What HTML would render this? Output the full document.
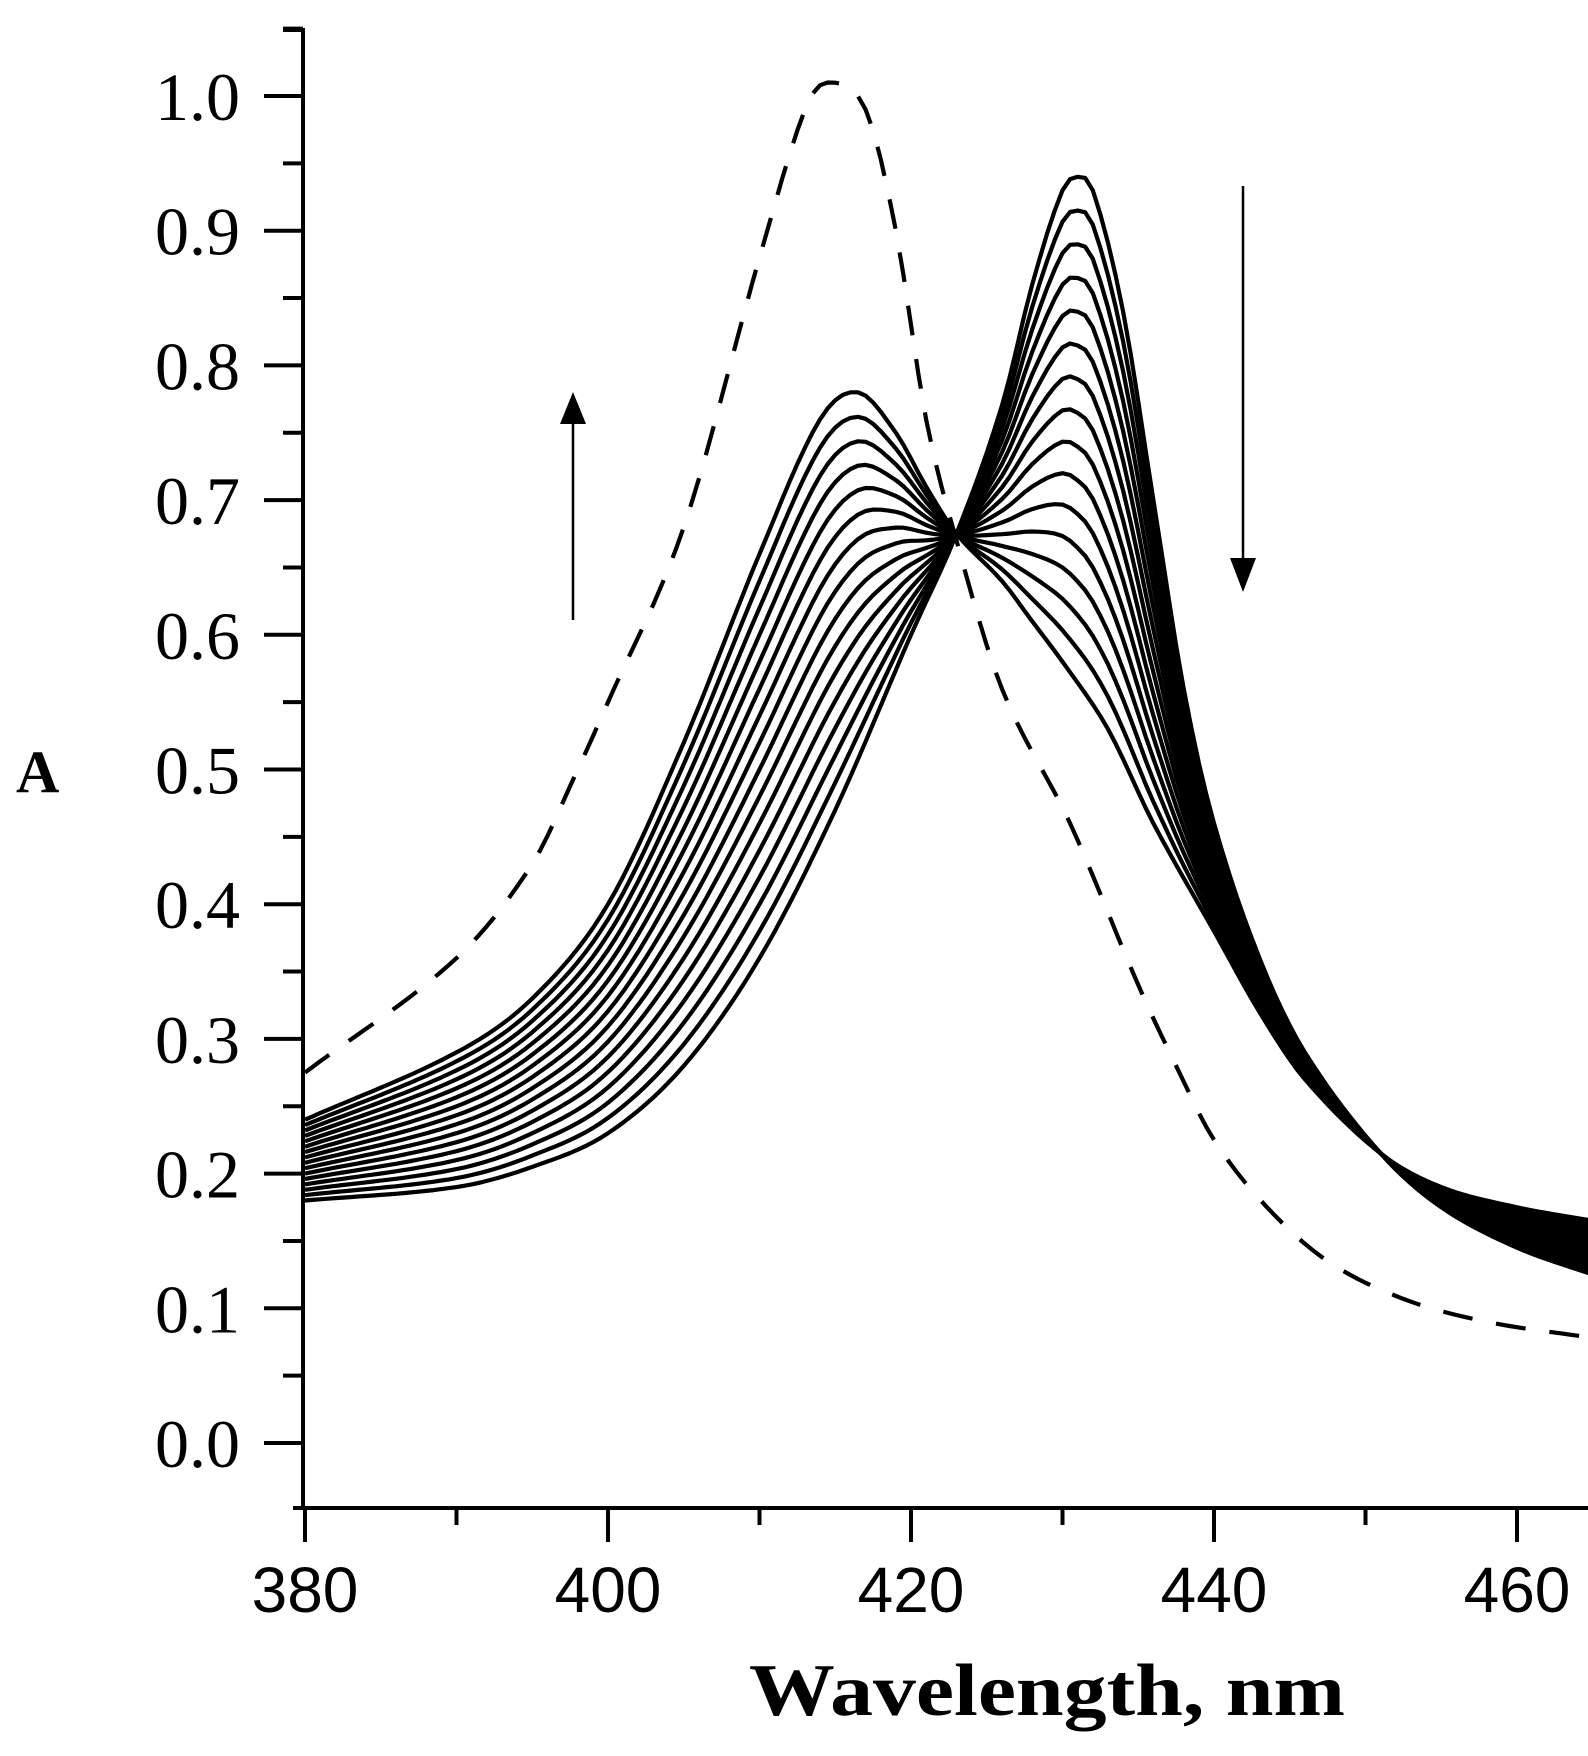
<!DOCTYPE html>
<html><head><meta charset="utf-8"><style>
html,body{margin:0;padding:0;background:#fff;}
svg{display:block;}
</style></head><body>
<svg id="s" width="1588" height="1756" viewBox="0 0 1588 1756" xmlns="http://www.w3.org/2000/svg">
<g id="axes" stroke="#000" stroke-width="4" fill="none">
<line x1="303" y1="30" x2="303" y2="1510"/>
<line x1="283" y1="30" x2="305" y2="30"/>
<line x1="293" y1="1508" x2="1588" y2="1508"/>
</g>
<g id="ticks" stroke="#000" stroke-width="4"></g>
<g id="curves" fill="none" stroke="#000" stroke-width="4.2" stroke-linejoin="round"></g>
<g font-family="'Liberation Serif', serif" font-size="68" fill="#000" text-anchor="end" id="ylab"></g>
<g font-family="'Liberation Sans', sans-serif" font-size="64" fill="#000" text-anchor="middle" id="xlab"></g>
<text x="16" y="792" font-family="'Liberation Serif', serif" font-weight="bold" font-size="60">A</text>
<text x="749" y="1715" font-family="'Liberation Serif', serif" font-weight="bold" font-size="74" textLength="596" lengthAdjust="spacingAndGlyphs">Wavelength, nm</text>
<g stroke="#000" stroke-width="2.5"><line x1="573" y1="620" x2="573" y2="420"/><line x1="1243" y1="186" x2="1243" y2="565"/></g>
<polygon points="573,392 560,424 586,424" fill="#000"/>
<polygon points="1243,592 1230,558 1256,558" fill="#000"/>
</svg>
<script>
var X=function(l){return 305+(l-380)*15.15;};
var Y=function(a){return 1443-a*1347;};
var NS="http://www.w3.org/2000/svg";
function el(p,t,a,txt){var e=document.createElementNS(NS,t);for(var k in a)e.setAttribute(k,a[k]);if(txt!==undefined)e.textContent=txt;document.getElementById(p).appendChild(e);return e;}
for(var i=0;i<=21;i++){var v=i*0.05,y=Y(v);var major=(i%2==0);el("ticks","line",{x1:major?264:283,y1:y,x2:303,y2:y});
 if(major&&i<=20)el("ylab","text",{x:240,y:y+24},(v).toFixed(1));}
for(var l=380;l<=465;l+=10){var x=X(l),maj=(l%20==0);el("ticks","line",{x1:x,y1:1508,x2:x,y2:maj?1542:1525});
 if(maj)el("xlab","text",{x:x,y:1612},String(l));}
function spline(pts,l){var n=pts.length,i=0;while(i<n-2&&pts[i+1][0]<l)i++;
 var p0=pts[Math.max(i-1,0)],p1=pts[i],p2=pts[i+1],p3=pts[Math.min(i+2,n-1)];
 var t=(l-p1[0])/(p2[0]-p1[0]);
 var m1=(p2[1]-p0[1])/(p2[0]-p0[0])*(p2[0]-p1[0]),m2=(p3[1]-p1[1])/(p3[0]-p1[0])*(p2[0]-p1[0]);
 var t2=t*t,t3=t2*t;return (2*t3-3*t2+1)*p1[1]+(t3-2*t2+t)*m1+(-2*t3+3*t2)*p2[1]+(t3-t2)*m2;}
var B=[[380,.18],[390,.19],[395,.205],[400,.23],[405,.28],[410,.36],[415,.47],[420,.60],[423,.675],[426,.77],[428,.86],[430,.93],[431,.94],[432,.93],[434,.84],[436,.70],[438,.56],[440,.46],[443,.36],[446,.29],[451,.215],[455,.175],[460,.145],[465,.125]];
var A=[[380,.24],[390,.29],[395,.33],[400,.40],[405,.52],[410,.66],[414,.76],[416.5,.78],[419,.75],[421,.71],[423,.675],[426,.64],[428,.61],[430,.58],[433,.53],[436,.46],[440,.38],[443,.32],[446,.27],[451,.215],[455,.19],[460,.175],[465,.165]];
var N=15;
for(var k=0;k<=N;k++){var t=k/N,d="";
 for(var l=380;l<=465.01;l+=0.5){var v=(1-t)*spline(B,l)+t*spline(A,l);d+=(d?"L":"M")+X(l).toFixed(1)+","+Y(v).toFixed(1);}
 el("curves","path",{d:d});}
var D=[[380,.275],[390,.36],[395,.43],[398,.5],[400,.55],[405,.68],[410,.88],[413,.99],[414.5,1.01],[417,.99],[419,.90],[421,.76],[423,.67],[426,.56],[430.5,.46],[435,.34],[437.5,.28],[440,.225],[443.5,.175],[447.5,.135],[452.5,.107],[458,.09],[465,.078]];
var d="";for(var l=380;l<=465.01;l+=0.5){d+=(d?"L":"M")+X(l).toFixed(1)+","+Y(spline(D,l)).toFixed(1);}
el("curves","path",{d:d,"stroke-dasharray":"30,24"});
</script>
</body></html>
